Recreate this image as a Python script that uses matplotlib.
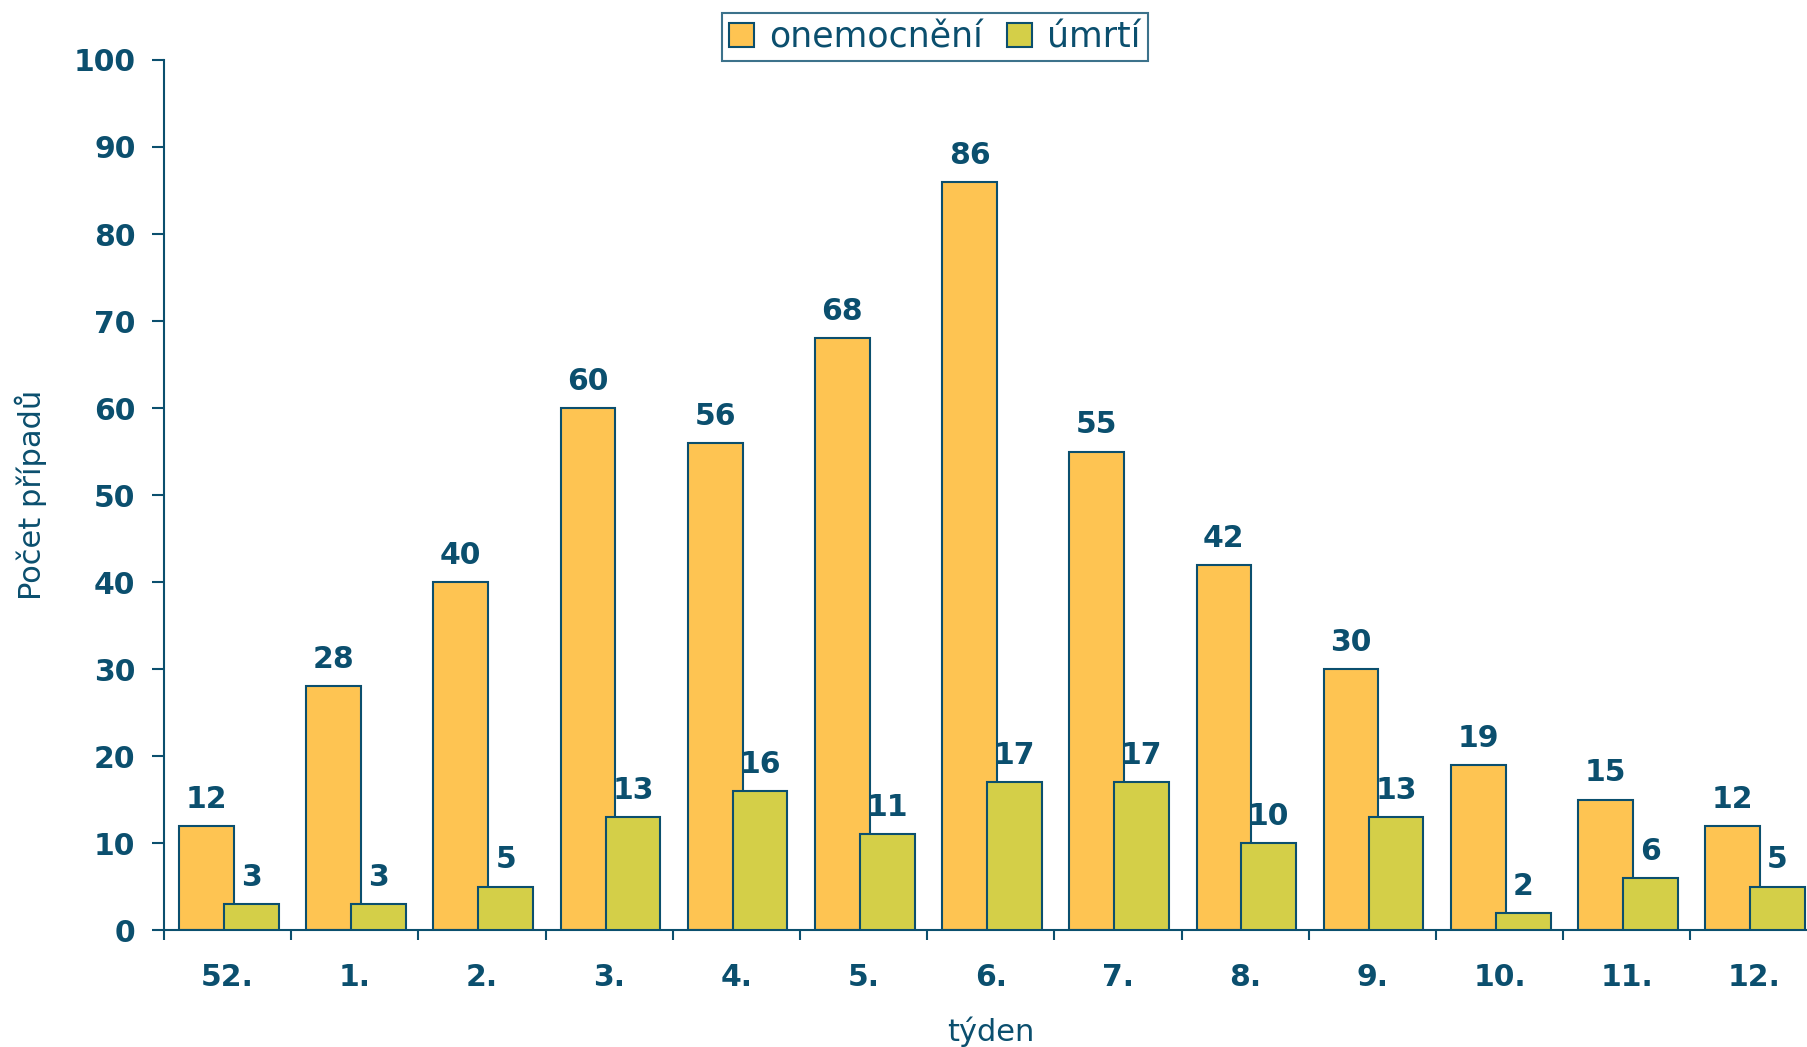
import matplotlib
matplotlib.use("Agg")
import matplotlib.pyplot as plt
from matplotlib.patches import Patch
import numpy as np

# weekly counts
weeks = ["52.", "1.", "2.", "3.", "4.", "5.", "6.", "7.", "8.", "9.", "10.", "11.", "12."]
cases = [12, 28, 40, 60, 56, 68, 86, 55, 42, 30, 19, 15, 12]
deaths = [3, 3, 5, 13, 16, 11, 17, 17, 10, 13, 2, 6, 5]
y_ticks = [0, 10, 20, 30, 40, 50, 60, 70, 80, 90, 100]

DARK = "#0b4f6e"
ORANGE = "#fec452"
GREEN = "#d4cf48"

plt.rcParams["font.family"] = ["DejaVu Sans"]

fig = plt.figure(figsize=(18.07, 10.47), dpi=100)
ax = fig.add_axes([0.0908, 0.1117, 0.915, 0.831])

x = np.arange(len(weeks))
w = 0.43
ax.bar(x - 0.167, cases, width=w, color=ORANGE, edgecolor=DARK, linewidth=1.5, zorder=2)
ax.bar(x + 0.186, deaths, width=w, color=GREEN, edgecolor=DARK, linewidth=1.5, zorder=3)

for xi, v in zip(x - 0.167, cases):
    ax.annotate(str(v), (xi, v), xytext=(0, 13), textcoords="offset points",
                ha="center", va="baseline", fontsize=21.5, fontweight="bold", color=DARK)
for xi, v in zip(x + 0.186, deaths):
    ax.annotate(str(v), (xi, v), xytext=(0, 13), textcoords="offset points",
                ha="center", va="baseline", fontsize=21.5, fontweight="bold", color=DARK)

ax.set_xlim(-0.5, len(weeks) - 0.5)
ax.set_ylim(0, 100)
ax.set_yticks(y_ticks)
ax.set_yticklabels([str(t) for t in y_ticks], fontsize=21.5, fontweight="bold", color=DARK)
ax.set_xticks(x)
ax.set_xticklabels(weeks, fontsize=21.5, fontweight="bold", color=DARK)
ax.set_xticks(np.arange(len(weeks) + 1) - 0.5, minor=True)

ax.tick_params(axis="y", which="major", length=8.6, width=1.5, color=DARK, pad=12)
ax.tick_params(axis="x", which="major", length=0, pad=24)
ax.tick_params(axis="x", which="minor", length=7.5, width=1.5, color=DARK)

for s in ["top", "right"]:
    ax.spines[s].set_visible(False)
for s in ["left", "bottom"]:
    ax.spines[s].set_color(DARK)
    ax.spines[s].set_linewidth(1.5)

ax.text(-0.0805, 0.5, "Počet případů", transform=ax.transAxes, rotation=90,
        ha="center", va="center", fontsize=22, color=DARK)
ax.text(0.5003, -0.1276, "týden", transform=ax.transAxes,
        ha="center", va="baseline", fontsize=22, color=DARK)

handles = [Patch(facecolor=ORANGE, edgecolor=DARK, linewidth=1.5, label="onemocnění"),
           Patch(facecolor=GREEN, edgecolor=DARK, linewidth=1.5, label="úmrtí")]
leg = fig.legend(handles=handles, loc="center", bbox_to_anchor=(935 / 1807, 1 - 37 / 1047),
                 ncol=2, fontsize=25, frameon=True, fancybox=False, borderpad=0.2,
                 handlelength=0.7, handleheight=0.7, handletextpad=0.45, columnspacing=0.7,
                 borderaxespad=0, labelcolor=DARK)
leg.get_frame().set_edgecolor(DARK)
leg.get_frame().set_linewidth(1.5)

fig.savefig("out.png", dpi=100, facecolor="white")
